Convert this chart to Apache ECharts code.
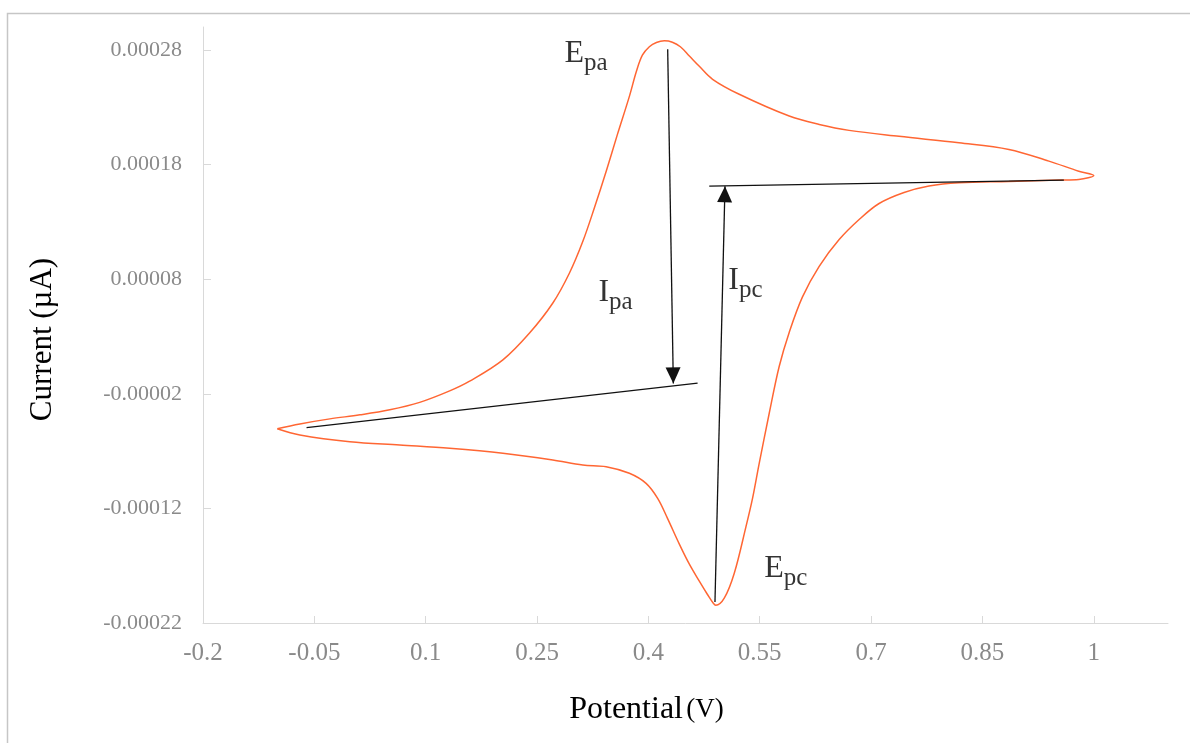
<!DOCTYPE html>
<html>
<head>
<meta charset="utf-8">
<script src="https://cdn.jsdelivr.net/npm/echarts@6/dist/echarts.min.js"></script>
<style>
  html, body { margin: 0; padding: 0; background: #fff; }
  #chart { width: 1190px; height: 743px; }
</style>
</head>
<body>
<div id="chart"></div>
<script>
// cyclic voltammogram, forward scan (top) then reverse scan (bottom)
const potential = [
  -0.1, -0.0695, -0.0291, 0.0114, 0.0516, 0.0919, 0.1323, 0.1592, 0.204, 0.2399,
  0.2713, 0.2937, 0.3116, 0.3274, 0.3435, 0.3583, 0.3744, 0.3839, 0.3919, 0.4013,
  0.4108, 0.4215, 0.4323, 0.4431, 0.4552, 0.4686, 0.4865, 0.5224, 0.5897, 0.6301,
  0.6704, 0.7377, 0.8184, 0.8857, 0.9395, 0.9798, 1.0,
  0.9798, 0.9529, 0.8857, 0.8184, 0.778, 0.7444, 0.7108, 0.6839, 0.657, 0.6301,
  0.6076, 0.5897, 0.5762, 0.5628, 0.5493, 0.5403, 0.5314, 0.5157, 0.5022, 0.4908,
  0.4875, 0.4794, 0.4686, 0.4552, 0.4417, 0.4256, 0.4125, 0.3969, 0.3744, 0.3431,
  0.3116, 0.2713, 0.204, 0.1323, 0.065, -0.0022, -0.0695, -0.1
]
const current = [
  -50.5e-6, -46.3e-6, -41.9e-6, -38.4e-6, -34.0e-6, -27.5e-6, -17.5e-6, -9.0e-6, 9.6e-6, 33.0e-6,
  59.2e-6, 85.4e-6, 112.8e-6, 142.5e-6, 174.8e-6, 206.3e-6, 239.5e-6, 261.4e-6, 275.4e-6, 282.8e-6,
  286.5e-6, 287.9e-6, 286.7e-6, 282.8e-6, 274.7e-6, 265.7e-6, 254.4e-6, 241.3e-6, 222.3e-6, 215.0e-6,
  209.8e-6, 204.6e-6, 199.0e-6, 193.2e-6, 183.0e-6, 174.2e-6, 170.5e-6,
  167.0e-6, 166.5e-6, 165.2e-6, 164.1e-6, 161.3e-6, 155.6e-6, 146.0e-6, 132.0e-6, 114.5e-6, 91.2e-6,
  64.5e-6, 33.5e-6, 3.8e-6, -37.0e-6, -80.7e-6, -111.3e-6, -136.1e-6, -176.6e-6, -198.4e-6, -204.5e-6,
  -202.8e-6, -194.9e-6, -183.5e-6, -168.7e-6, -151.2e-6, -128.5e-6, -111.3e-6, -98.2e-6, -89.4e-6, -83.6e-6,
  -82.2e-6, -77.8e-6, -71.9e-6, -67.6e-6, -64.7e-6, -61.8e-6, -55.9e-6, -50.5e-6
]

const xTicks = [-0.2, -0.05, 0.1, 0.25, 0.4, 0.55, 0.7, 0.85, 1]
const yTicks = [-0.00022, -0.00012, -0.00002, 0.00008, 0.00018, 0.00028]

// baselines and peak-current arrows, [start, end] in data units
const anodicBaseline = [[-0.0605, -49.6e-6], [0.4663, -10.7e-6]]
const anodicArrow = [[0.426, 280.6e-6], [0.4336, -11.0e-6]]
const cathodicBaseline = [[0.482, 161.1e-6], [0.9597, 166.4e-6]]
const cathodicArrow = [[0.4897, -201.6e-6], [0.5032, 161.1e-6]]

const peakLabels = [
  { main: 'E', sub: 'pa', value: [0.2871, 274.3e-6] },
  { main: 'I', sub: 'pa', value: [0.3327, 65.3e-6] },
  { main: 'I', sub: 'pc', value: [0.5076, 76.1e-6] },
  { main: 'E', sub: 'pc', value: [0.5561, -175.4e-6] }
]

const serif = "'Liberation Serif', 'Times New Roman', serif"
const axisGray = '#d9d9d9'
const labelGray = '#8a8a8a'

const chart = echarts.init(document.getElementById('chart'))

const segment = (pair) => [{ coord: pair[0] }, { coord: pair[1] }]
const arrowSegment = (pair) => [
  { coord: pair[0] },
  { coord: pair[1], symbol: 'triangle', symbolSize: [15, 16], symbolOffset: [0, 8] }
]

chart.setOption({
  animation: false,
  grid: { left: 203, right: 22, top: 27, bottom: 120 },
  graphic: [
    {
      type: 'rect',
      shape: { x: 7.5, y: 13.5, width: 1300, height: 800 },
      style: { fill: 'none', stroke: '#c6c6c6', lineWidth: 1.5 },
      silent: true
    }
  ],
  xAxis: {
    type: 'value',
    min: -0.2,
    max: 1.1,
    name: '{a|Potential} {b|(V)}',
    nameLocation: 'middle',
    nameGap: 71,
    nameTextStyle: {
      padding: [0, 78, 0, 0],
      rich: {
        a: { fontFamily: serif, fontSize: 32, color: '#000' },
        b: { fontFamily: serif, fontSize: 27, color: '#000' }
      }
    },
    axisLine: { onZero: false, lineStyle: { color: axisGray, width: 1 } },
    axisTick: { inside: true, length: 7, customValues: xTicks, lineStyle: { color: axisGray } },
    axisLabel: {
      customValues: xTicks,
      formatter: (v) => String(v),
      fontFamily: serif,
      fontSize: 25,
      color: labelGray,
      margin: 18
    },
    splitLine: { show: false }
  },
  yAxis: {
    type: 'value',
    min: -0.00022,
    max: 0.0003,
    name: 'Current (µA)',
    nameLocation: 'middle',
    nameRotate: 90,
    nameGap: 145,
    nameTextStyle: {
      fontFamily: serif,
      fontSize: 31,
      color: '#000',
      padding: [0, 29, 0, 0]
    },
    axisLine: { show: true, onZero: false, lineStyle: { color: axisGray, width: 1 } },
    axisTick: { show: true, inside: true, length: 8, customValues: yTicks, lineStyle: { color: axisGray } },
    axisLabel: {
      customValues: yTicks,
      formatter: (v) => v.toFixed(5),
      fontFamily: serif,
      fontSize: 22,
      color: labelGray,
      margin: 21
    },
    splitLine: { show: false }
  },
  series: [
    {
      name: 'CV',
      type: 'line',
      data: potential.map((x, i) => [x, current[i]]),
      smooth: 0.35,
      symbol: 'none',
      silent: true,
      lineStyle: { color: '#ff6633', width: 1.5 },
      markLine: {
        silent: true,
        symbol: ['none', 'none'],
        label: { show: false },
        lineStyle: { color: '#111', width: 1.3, type: 'solid' },
        data: [
          segment(anodicBaseline),
          segment(cathodicBaseline),
          arrowSegment(anodicArrow),
          arrowSegment(cathodicArrow)
        ]
      }
    },
    {
      name: 'labels',
      type: 'scatter',
      symbolSize: 0,
      silent: true,
      data: peakLabels.map((p) => ({ value: p.value, main: p.main, sub: p.sub })),
      label: {
        show: true,
        position: 'right',
        distance: 0,
        formatter: (p) => `{m|${p.data.main}}{s|${p.data.sub}}`,
        rich: {
          m: { fontFamily: serif, fontSize: 32, color: '#000', verticalAlign: 'top' },
          s: { fontFamily: serif, fontSize: 25, color: '#000', verticalAlign: 'top', padding: [13, 0, 0, 0] }
        }
      }
    }
  ]
})
</script>
</body>
</html>
